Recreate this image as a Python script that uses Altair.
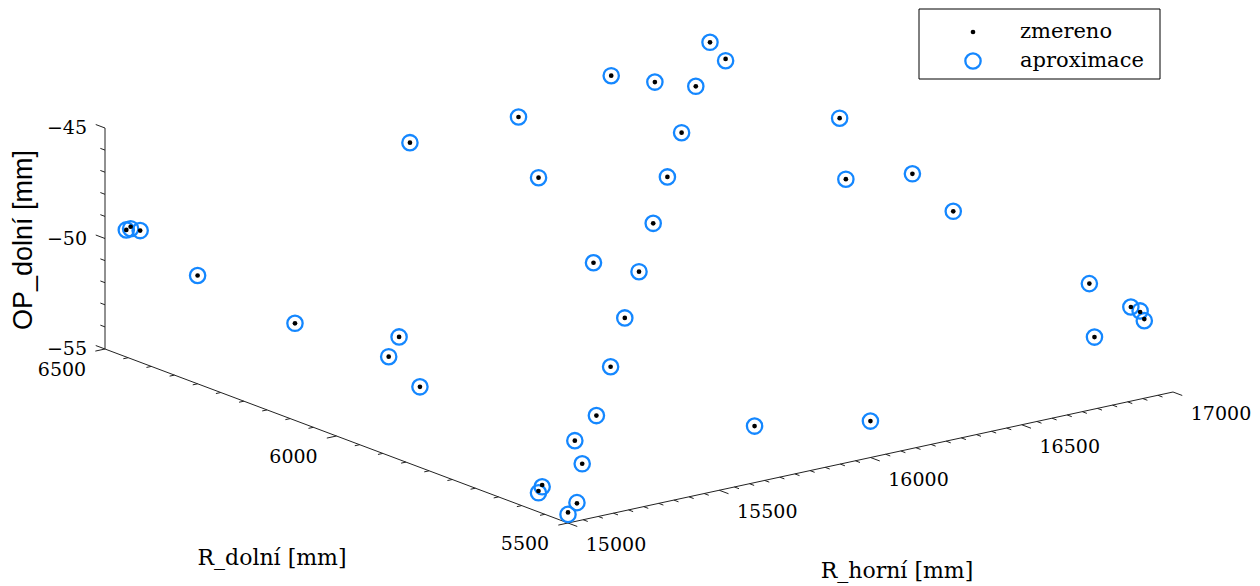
import altair as alt
import pandas as pd

# ---------------- data ----------------
rh_zmereno = [17000, 16800, 16600, 16400, 16200, 16000, 15800, 15600, 15400, 15200, 15000,
              15956, 15000, 15022, 15029, 15000, 15051, 15239, 15145, 15109,
              16972, 16652, 16729, 16295, 16124, 15946, 15269, 15037, 15008, 15051,
              17000, 16817, 16988, 16947, 16999, 16820, 17000, 17000, 17000, 15730, 16012]
rd_zmereno = [6500, 6400, 6300, 6200, 6100, 6000, 5900, 5800, 5700, 5600, 5500,
              6466, 6454, 6459, 6443, 6300, 6123, 6021, 5982, 5891,
              6448, 6486, 6442, 6453, 6298, 6063, 5661, 5580, 5569, 5514,
              6220, 6087, 6055, 5940, 5680, 5552, 5591, 5571, 5562, 5574, 5508]
op_zmereno = [-47.05, -47.66, -48.38, -49.00, -49.72, -50.53, -51.24, -52.07, -52.90, -53.70, -54.52,
              -48.23, -49.25, -49.21, -49.28, -50.10, -51.02, -51.39, -51.70, -52.24,
              -47.31, -47.42, -47.59, -47.97, -48.99, -50.46, -53.34, -54.02, -54.12, -54.37,
              -48.28, -49.45, -49.46, -50.13, -51.51, -52.39, -51.87, -51.94, -52.19, -53.36, -53.45]
op_aproximace = [-47.05, -47.66, -48.38, -49.00, -49.72, -50.53, -51.24, -52.07, -52.90, -53.70, -54.61,
                 -48.23, -49.25, -49.30, -49.28, -50.10, -51.02, -51.39, -51.70, -52.24,
                 -47.39, -47.42, -47.59, -47.97, -48.99, -50.46, -53.34, -54.10, -54.20, -54.34,
                 -48.28, -49.45, -49.46, -50.13, -51.51, -52.39, -51.87, -51.89, -52.26, -53.36, -53.45]

rh_major = [15000, 15500, 16000, 16500, 17000]
rh_labels = ["15000", "15500", "16000", "16500", "17000"]
rd_major = [5500, 6000, 6500]
rd_labels = ["5500", "6000", "6500"]
op_major = [-55, -50, -45]
op_labels = ["\u221255", "\u221250", "\u221245"]
rh_minor_step = 50
rd_minor_step = 50
op_minor_step = 1

RH0, RH1 = 15000, 17000
RD0, RD1 = 5500, 6500
OP0, OP1 = -55, -45

# ---------------- view (projection) parameters ----------------
HX, DX, HY, DY, OZ = 605, 463, 131, 174, 221
BLUE = "#1487ff"
AXC = "#222222"
SERIF = "DejaVu Serif"

xs = alt.Scale(domain=[-560, 684], nice=False, zero=False)
ys = alt.Scale(domain=[-63, 515], nice=False, zero=False)


def pxe(rh, rd):
    return f"{HX}*(datum.{rh}-{RH0})/{RH1 - RH0} - {DX}*(datum.{rd}-{RD0})/{RD1 - RD0}"


def pye(rh, rd, op):
    return (f"{HY}*(datum.{rh}-{RH0})/{RH1 - RH0} + {DY}*(datum.{rd}-{RD0})/{RD1 - RD0}"
            f" + {OZ}*(datum.{op}-({OP0}))/{OP1 - OP0}")


def proj(chart, seg=False):
    c = chart.transform_calculate(X=pxe("rh", "rd"), Y=pye("rh", "rd", "op"))
    if seg:
        c = c.transform_calculate(X2=pxe("rh2", "rd2"), Y2=pye("rh2", "rd2", "op2"))
    return c


# axis lines
axes_df = pd.DataFrame({
    "rh": [RH0, RH0, RH0], "rd": [RD0, RD0, RD1], "op": [OP0, OP0, OP0],
    "rh2": [RH1, RH0, RH0], "rd2": [RD0, RD1, RD1], "op2": [OP0, OP0, OP1],
})

# ticks
rows = []
for v in range(RH0, RH1 + 1, rh_minor_step):
    L = 20 if v in rh_major else 10
    rows.append(dict(rh=v, rd=RD0, op=OP0, rh2=v, rd2=RD0 - L, op2=OP0))
for v in range(RD0, RD1 + 1, rd_minor_step):
    L = 32 if v in rd_major else 16
    rows.append(dict(rh=RH0, rd=v, op=OP0, rh2=RH0 - L, rd2=v, op2=OP0))
for v in range(OP0, OP1 + 1, op_minor_step):
    L = 20 if v in op_major else 10
    rows.append(dict(rh=RH0, rd=RD1, op=v, rh2=RH0, rd2=RD1 + L, op2=v))
ticks_df = pd.DataFrame(rows)

rh_lab_df = pd.DataFrame({"rh": rh_major, "rd": RD0, "op": OP0, "label": rh_labels})
rd_lab_df = pd.DataFrame({"rh": RH0, "rd": rd_major, "op": OP0, "label": rd_labels})
op_lab_df = pd.DataFrame({"rh": RH0, "rd": RD1, "op": op_major, "label": op_labels})

pts_df = pd.DataFrame({"rh": rh_zmereno, "rd": rd_zmereno, "op": op_zmereno,
                       "opa": op_aproximace})

enc_xy = dict(x=alt.X("X:Q", scale=xs, axis=None), y=alt.Y("Y:Q", scale=ys, axis=None))
enc_seg = dict(x2="X2:Q", y2="Y2:Q", **enc_xy)

axis_lines = proj(alt.Chart(axes_df).mark_rule(color=AXC, strokeWidth=1), seg=True).encode(**enc_seg)
tick_lines = proj(alt.Chart(ticks_df).mark_rule(color=AXC, strokeWidth=1), seg=True).encode(**enc_seg)

rh_text = proj(alt.Chart(rh_lab_df).mark_text(font=SERIF, fontSize=19, color="black",
                                               align="center", baseline="middle", dx=48, dy=22)
               ).encode(text="label:N", **enc_xy)
rd_text = proj(alt.Chart(rd_lab_df).mark_text(font=SERIF, fontSize=19, color="black",
                                               align="center", baseline="middle", dx=-43, dy=21)
               ).encode(text="label:N", **enc_xy)
op_text = proj(alt.Chart(op_lab_df).mark_text(font=SERIF, fontSize=19, color="black",
                                               align="right", baseline="middle", dx=-18, dy=0)
               ).encode(text="label:N", **enc_xy)

circles = (alt.Chart(pts_df)
           .transform_calculate(X=pxe("rh", "rd"), Y=pye("rh", "rd", "opa"))
           .mark_point(shape="circle", filled=False, color=BLUE, strokeWidth=2.3,
                       size=235, opacity=1)
           .encode(**enc_xy))
dots = proj(alt.Chart(pts_df).mark_circle(color="black", size=22, opacity=1)).encode(**enc_xy)

one = pd.DataFrame({"k": [0]})
title_op = alt.Chart(one).mark_text(text="OP_dolní [mm]", font="Liberation Sans", fontSize=27,
                                    angle=270, align="center", baseline="middle",
                                    color="black").encode(x=alt.value(16), y=alt.value(232))
title_rd = alt.Chart(one).mark_text(text="R_dolní [mm]", font=SERIF, fontSize=22,
                                    align="center", baseline="middle",
                                    color="black").encode(x=alt.value(264), y=alt.value(550))
title_rh = alt.Chart(one).mark_text(text="R_horní [mm]", font=SERIF, fontSize=22,
                                    align="center", baseline="middle",
                                    color="black").encode(x=alt.value(889), y=alt.value(563))

leg_box = alt.Chart(one).mark_rect(fill="white", stroke="black", strokeWidth=1).encode(
    x=alt.value(911), x2=alt.value(1152), y=alt.value(1), y2=alt.value(71))
leg_dot = alt.Chart(one).mark_circle(color="black", size=22, opacity=1).encode(
    x=alt.value(965), y=alt.value(24))
leg_circ = alt.Chart(one).mark_point(shape="circle", filled=False, color=BLUE, strokeWidth=2.3,
                                     size=235, opacity=1).encode(x=alt.value(965), y=alt.value(53))
leg_t1 = alt.Chart(one).mark_text(text="zmereno", font=SERIF, fontSize=21, align="left",
                                  baseline="middle", color="black").encode(
    x=alt.value(1012), y=alt.value(24))
leg_t2 = alt.Chart(one).mark_text(text="aproximace", font=SERIF, fontSize=21, align="left",
                                  baseline="middle", color="black").encode(
    x=alt.value(1012), y=alt.value(53))

chart = alt.layer(
    axis_lines, tick_lines, rh_text, rd_text, op_text, circles, dots,
    title_op, title_rd, title_rh, leg_box, leg_dot, leg_circ, leg_t1, leg_t2,
).properties(width=1244, height=578, autosize="none", padding=0,
             background="white").configure_view(strokeWidth=0)

chart.save("out.html", embed_options={"renderer": "svg", "actions": False})
